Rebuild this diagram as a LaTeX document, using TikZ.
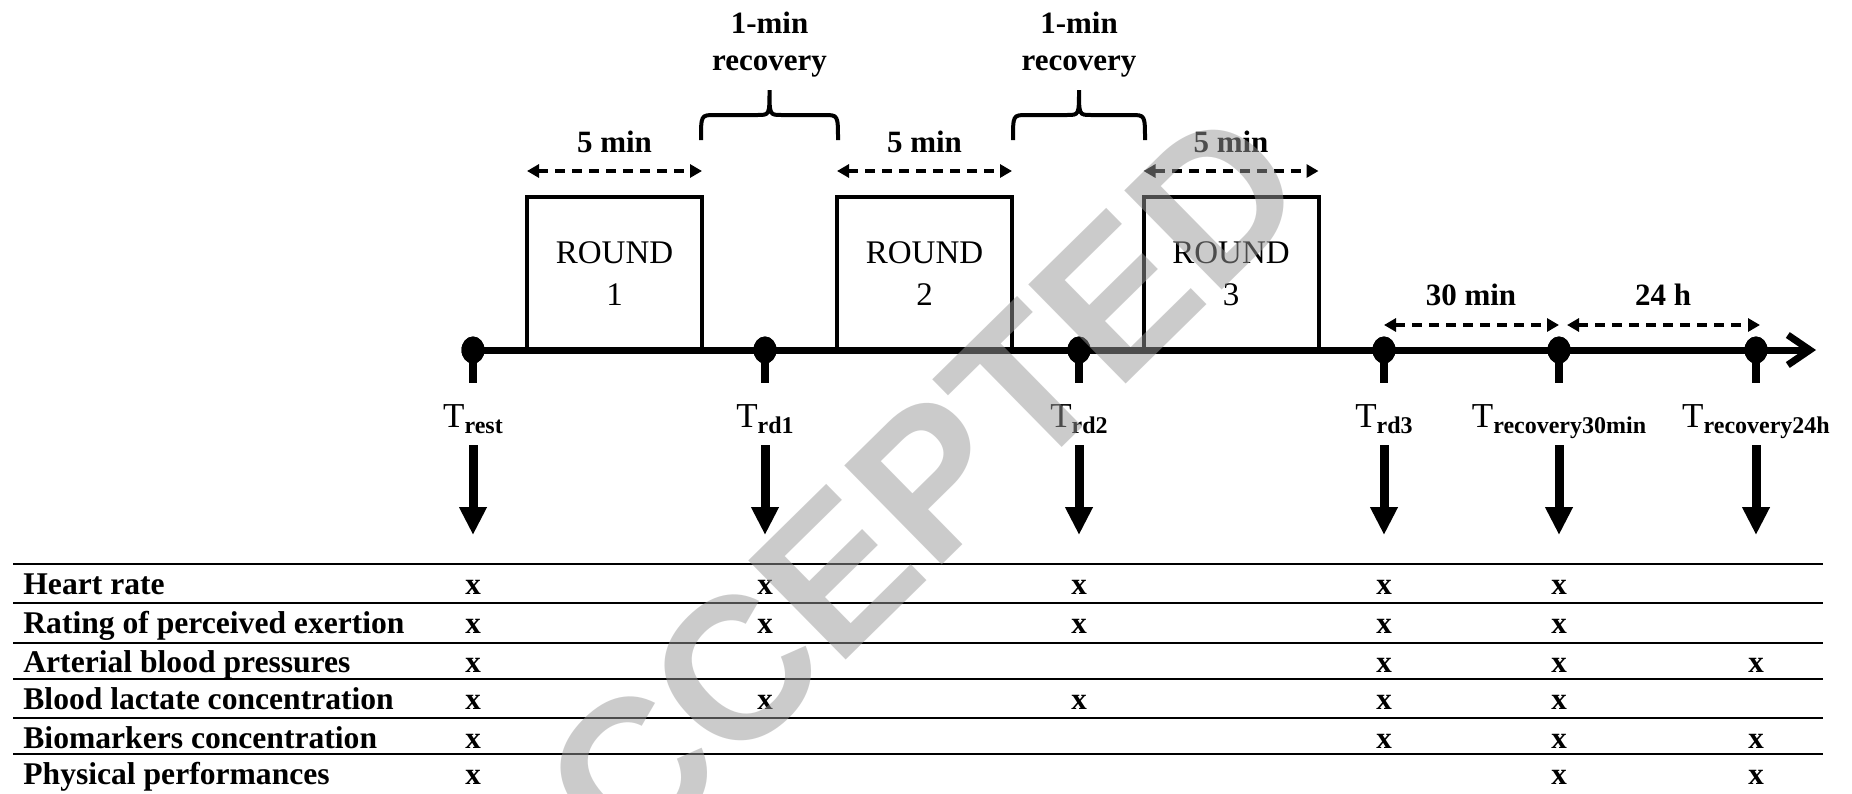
\documentclass[tikz,border=0pt]{standalone}
\usepackage{fontspec}
\setmainfont{Liberation Serif}
\newfontfamily\wmfont{Liberation Sans}
\usetikzlibrary{arrows.meta,shapes.geometric}

% curly bracket over a recovery gap, from x=#1 to x=#2
\newcommand{\gapbrace}[2]{%
  \pgfmathsetmacro{\bmid}{(#1+#2)/2}%
  \draw[brace] (#1,140) .. controls (#1,115) .. (#1+14,115) -- (\bmid-12,115)
     .. controls (\bmid,115) .. (\bmid,90)
     .. controls (\bmid,115) .. (\bmid+12,115) -- (#2-14,115)
     .. controls (#2,115) .. (#2,140);}

\begin{document}
\begin{tikzpicture}[x=0.5pt,y=-0.5pt,
  timeline/.style={line width=3.5pt,-{Straight Barb[length=11pt,width=15pt]}},
  dot/.style={ellipse,fill=black,inner sep=0pt,minimum width=11.5pt,minimum height=13.5pt},
  stem/.style={line width=4pt},
  downarrow/.style={line width=4.5pt,-{Triangle[length=14pt,width=13pt]}},
  roundbox/.style={draw,line width=2pt,minimum width=87.5pt,minimum height=76.5pt,
    inner sep=0pt,outer sep=0pt,align=center,font=\fontsize{16.5}{21}\selectfont},
  dimarrow/.style={line width=2pt,dash pattern=on 5pt off 3.5pt,
    {Triangle[length=6pt,width=6.5pt]}-{Triangle[length=6pt,width=6.5pt]}},
  brace/.style={line width=2pt},
  lbl/.style={font=\fontsize{15.5}{18}\selectfont\bfseries,inner sep=0pt,anchor=base},
  tlab/.style={inner sep=0pt,anchor=base},
  rule/.style={line width=1.2pt},
  rowlbl/.style={font=\fontsize{15.8}{18}\selectfont\bfseries,inner sep=0pt,anchor=base west},
  xmark/.style={font=\fontsize{15.5}{18}\selectfont\bfseries,inner sep=0pt,anchor=base},
  watermark/.style={font=\fontsize{101}{101}\selectfont\wmfont\bfseries,text=black!40,
    opacity=0.5,inner sep=0pt}]

\fill[white] (0,0) rectangle (1852,793);
\useasboundingbox (0,0) rectangle (1852,793);

% time axis
\coordinate (tstart) at (473,350);
\coordinate (tend) at (1816,350);
\draw[timeline] (tstart) -- (tend);

% exercise rounds
\node[roundbox] (r1) at (614.5,273.5) {ROUND\\1};
\node[roundbox] (r2) at (924.5,273.5) {ROUND\\2};
\node[roundbox] (r3) at (1231,273.5) {ROUND\\3};

% 5-min durations above the rounds
\foreach \r in {1,2,3} {
  \draw[dimarrow] ([yshift=13pt]r\r.north west) -- ([yshift=13pt]r\r.north east);
  \node[lbl] (five\r) at ([yshift=22.5pt]r\r.north) {5 min};
}

% recovery brackets
\gapbrace{701}{838}
\gapbrace{1013}{1145}
\node[lbl] (rec1a) at (769.5,33) {1-min};
\node[lbl] (rec1b) at (769.5,70) {recovery};
\node[lbl] (rec2a) at (1079,33) {1-min};
\node[lbl] (rec2b) at (1079,70) {recovery};

% measurement time points
\foreach \i/\x/\sub in {1/473/rest,2/765/rd1,3/1079/rd2,
                        4/1384/rd3,5/1559/recovery30min,6/1756/recovery24h} {
  \coordinate (s\i) at (\x,383);
  \coordinate (a\i) at (\x,445);
  \coordinate (b\i) at (\x,535);
  \node[dot] (d\i) at (\x,350) {};
  \draw[stem] (d\i.center) -- (s\i);
  \node[dot] at (d\i) {};
  \node[tlab] (t\i) at (\x,427)
    {\fontsize{17.5}{20}\selectfont T\raisebox{-3pt}{\fontsize{12}{14}\selectfont\bfseries\sub}};
  \draw[downarrow] (a\i) -- (b\i);
}

% follow-up intervals
\draw[dimarrow] ([yshift=12.5pt]d4.center) -- ([yshift=12.5pt]d5.center);
\draw[dimarrow] ([xshift=4pt,yshift=12.5pt]d5.center) -- ([xshift=2pt,yshift=12.5pt]d6.center);
\node[lbl] (thirty) at (1471,305) {30 min};
\node[lbl] (day) at (1663,305) {24 h};

% measurement table
\foreach \y in {564,603,643,679,718,754}
  \draw[rule] (13,\y) -- (1823,\y);

\foreach \row/\y/\txt/\cols in {
    1/594/Heart rate/{1,2,3,4,5},
    2/633/Rating of perceived exertion/{1,2,3,4,5},
    3/672/Arterial blood pressures/{1,4,5,6},
    4/709/Blood lactate concentration/{1,2,3,4,5},
    5/748/Biomarkers concentration/{1,4,5,6},
    6/784/Physical performances/{1,5,6}} {
  \node[rowlbl] (row\row) at (23,\y) {\txt};
  \foreach \c in \cols {
    \node[xmark] (x\row-\c) at (d\c |- 0,\y) {x};
  }
}

% status stamp
\node[watermark,rotate=44.5] (stamp) at (872,537) {ACCEPTED};
\end{tikzpicture}
\end{document}
